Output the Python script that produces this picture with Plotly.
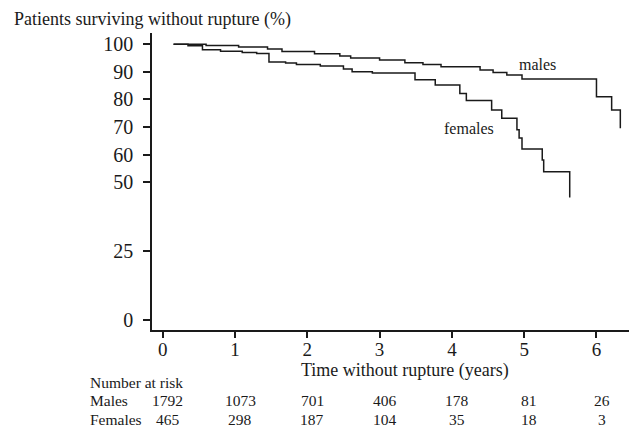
import plotly.graph_objects as go

# Kaplan-Meier style step data (years, % surviving without rupture)
males_t = [0.15, 0.6, 1.05, 1.45, 1.65, 2.1, 2.45, 2.6, 3.0, 3.35, 3.6, 3.85, 4.39, 4.57, 4.76, 4.97, 6.0, 6.21, 6.33, 6.34]
males_s = [100, 99.6, 99.0, 98.3, 97.4, 96.6, 95.8, 95.0, 94.3, 93.3, 92.7, 91.9, 90.7, 89.8, 88.9, 87.4, 81.0, 76.2, 69.8, 69.8]

females_t = [0.15, 0.35, 0.55, 0.8, 1.1, 1.3, 1.47, 1.7, 1.85, 2.18, 2.5, 2.62, 2.9, 3.49, 3.77, 4.11, 4.2, 4.55, 4.69, 4.9, 4.93, 4.97, 5.25, 5.27, 5.63, 5.64]
females_s = [100, 99.5, 98.0, 97.5, 97.0, 96.7, 93.6, 93.2, 92.7, 92.1, 91.0, 90.0, 89.6, 87.1, 85.2, 82.2, 79.6, 76.2, 73.2, 69.0, 66.0, 62.0, 58.0, 53.8, 44.7, 44.7]

x_ticks = [0, 1, 2, 3, 4, 5, 6]
y_ticks = [0, 25, 50, 60, 70, 80, 90, 100]

risk_years = [0, 1, 2, 3, 4, 5, 6]
males_risk = [1792, 1073, 701, 406, 178, 81, 26]
females_risk = [465, 298, 187, 104, 35, 18, 3]

FONT = "Liberation Serif, Times New Roman, serif"
INK = "#1a1a1a"

fig = go.Figure()
fig.add_trace(go.Scatter(x=males_t, y=males_s, mode="lines", line_shape="hv",
                         line=dict(color=INK, width=1.5), showlegend=False))
fig.add_trace(go.Scatter(x=females_t, y=females_s, mode="lines", line_shape="hv",
                         line=dict(color=INK, width=1.5), showlegend=False))

ann = []
ann.append(dict(text="Patients surviving without rupture (%)", xref="paper", yref="paper",
                x=-0.2935, y=1.044, xanchor="left", yanchor="middle", showarrow=False,
                font=dict(family=FONT, size=18, color=INK)))
ann.append(dict(text="Time without rupture (years)", xref="paper", yref="paper",
                x=0.53, y=-0.135, xanchor="center", yanchor="middle", showarrow=False,
                font=dict(family=FONT, size=18, color=INK)))
ann.append(dict(text="males", xref="x", yref="y", x=5.19, y=92.5, showarrow=False,
                font=dict(family=FONT, size=16, color=INK)))
ann.append(dict(text="females", xref="x", yref="y", x=4.24, y=69.6, showarrow=False,
                font=dict(family=FONT, size=16, color=INK)))

row_y = {"head": -0.178, "m": -0.239, "f": -0.303}
ann.append(dict(text="Number at risk", xref="paper", yref="paper", x=-0.134, y=row_y["head"],
                xanchor="left", yanchor="middle", showarrow=False,
                font=dict(family=FONT, size=15.5, color=INK)))
ann.append(dict(text="Males", xref="paper", yref="paper", x=-0.134, y=row_y["m"],
                xanchor="left", yanchor="middle", showarrow=False,
                font=dict(family=FONT, size=15.5, color=INK)))
ann.append(dict(text="Females", xref="paper", yref="paper", x=-0.134, y=row_y["f"],
                xanchor="left", yanchor="middle", showarrow=False,
                font=dict(family=FONT, size=15.5, color=INK)))
for yr, m, f in zip(risk_years, males_risk, females_risk):
    ann.append(dict(text=str(m), xref="x", yref="paper", x=yr + 0.07, y=row_y["m"],
                    xanchor="center", yanchor="middle", showarrow=False,
                    font=dict(family=FONT, size=15.5, color=INK)))
    ann.append(dict(text=str(f), xref="x", yref="paper", x=yr + 0.07, y=row_y["f"],
                    xanchor="center", yanchor="middle", showarrow=False,
                    font=dict(family=FONT, size=15.5, color=INK)))

fig.update_layout(
    width=629, height=427,
    margin=dict(l=152, r=0, t=33, b=97),
    paper_bgcolor="white", plot_bgcolor="white",
    annotations=ann,
    xaxis=dict(range=[-0.148, 6.45], tickvals=x_ticks, ticktext=[str(v) for v in x_ticks],
               showgrid=False, zeroline=False, showline=True, linecolor=INK, linewidth=1.5,
               ticks="outside", ticklen=6, tickcolor=INK, tickwidth=1.5,
               ticklabelstandoff=-5,
               tickfont=dict(family=FONT, size=19, color=INK)),
    yaxis=dict(range=[-3.63, 104.1], tickvals=y_ticks, ticktext=[str(v) for v in y_ticks],
               showgrid=False, zeroline=False, showline=True, linecolor=INK, linewidth=1.5,
               ticks="outside", ticklen=7, tickcolor=INK, tickwidth=1.5,
               ticklabelstandoff=6,
               tickfont=dict(family=FONT, size=20, color=INK)),
)

fig.write_html("out.html")
